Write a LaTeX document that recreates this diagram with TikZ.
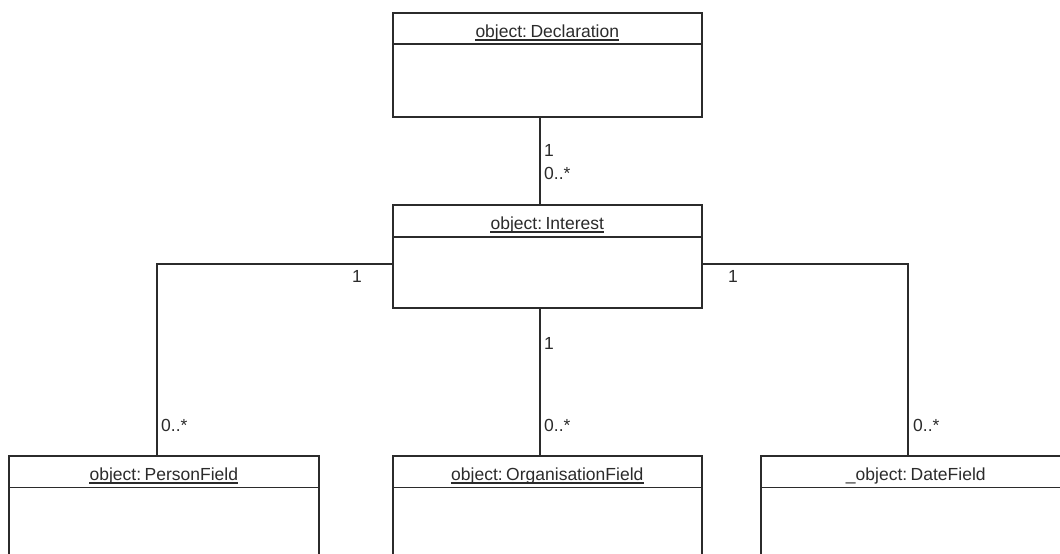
\documentclass[tikz,border=0pt]{standalone}
\usepackage{fontspec}
\setmainfont{Liberation Sans}
\definecolor{ink}{HTML}{2B2B2B}
\begin{document}
\begin{tikzpicture}[x=1pt,y=-1pt,
  umlbox/.style={draw=ink,line width=1.6pt,rectangle,inner sep=0pt,anchor=north west},
  titletext/.style={anchor=base,inner sep=0pt,text=ink,font=\fontsize{17.5}{21}\selectfont},
  mult/.style={anchor=west,inner sep=0pt,text=ink,font=\fontsize{17.5}{21}\selectfont},
  link/.style={draw=ink,line width=1.6pt},
  rule/.style={draw=ink,line width=1.1pt}]
\path[use as bounding box] (0,0) rectangle (1060,554);
\clip (0,0) rectangle (1060,554);

% object boxes
\node[umlbox,minimum width=309pt,minimum height=104pt] (decl) at (392,12) {};
\node[umlbox,minimum width=309pt,minimum height=103pt] (int) at (392,204) {};
\node[umlbox,minimum width=310pt,minimum height=160pt] (pf) at (8,455) {};
\node[umlbox,minimum width=309pt,minimum height=160pt] (of) at (392,455) {};
\node[umlbox,minimum width=310pt,minimum height=160pt] (df) at (760,455) {};

% header separators
\foreach \b/\h in {decl/32,int/33,pf/32.5,of/32.5,df/32.5}{
  \draw[link] ([yshift=-\h pt]\b.north west) -- ([yshift=-\h pt]\b.north east);
}

% titles
\node[titletext] (decl-t) at ([yshift=-25.5pt]decl.north) {object:\hspace{0.2em}Declaration};
\node[titletext] (int-t) at ([yshift=-25.5pt]int.north) {object:\hspace{0.2em}Interest};
\node[titletext] (pf-t) at ([yshift=-25.5pt]pf.north) {object:\hspace{0.2em}PersonField};
\node[titletext] (of-t) at ([yshift=-25.5pt]of.north) {object:\hspace{0.2em}OrganisationField};
\node[titletext] (df-t) at ([yshift=-25.5pt]df.north) {\_object:\hspace{0.2em}DateField};
\foreach \t in {decl-t,int-t,pf-t,of-t}{
  \draw[rule] ([yshift=-2.5pt]\t.base west) -- ([yshift=-2.5pt]\t.base east);
}

% associations
\draw[link] ([xshift=-7.5pt]decl.south) -- ([xshift=-7.5pt]int.north);
\draw[link] ([xshift=-7.5pt]int.south) -- ([xshift=-7.5pt]of.north);
\draw[link] ([yshift=-7.5pt]int.west) -| ([xshift=-7pt]pf.north);
\draw[link] ([yshift=-7.5pt]int.east) -| ([xshift=-8pt]df.north);

% multiplicities
\node[mult] (m1) at (544,150) {1};
\node[mult] (m2) at (544,173) {0..*};
\node[mult] (m3) at (352,276) {1};
\node[mult] (m4) at (161,425) {0..*};
\node[mult] (m5) at (544,343) {1};
\node[mult] (m6) at (544,425) {0..*};
\node[mult] (m7) at (728,276) {1};
\node[mult] (m8) at (913,425) {0..*};
\end{tikzpicture}
\end{document}
